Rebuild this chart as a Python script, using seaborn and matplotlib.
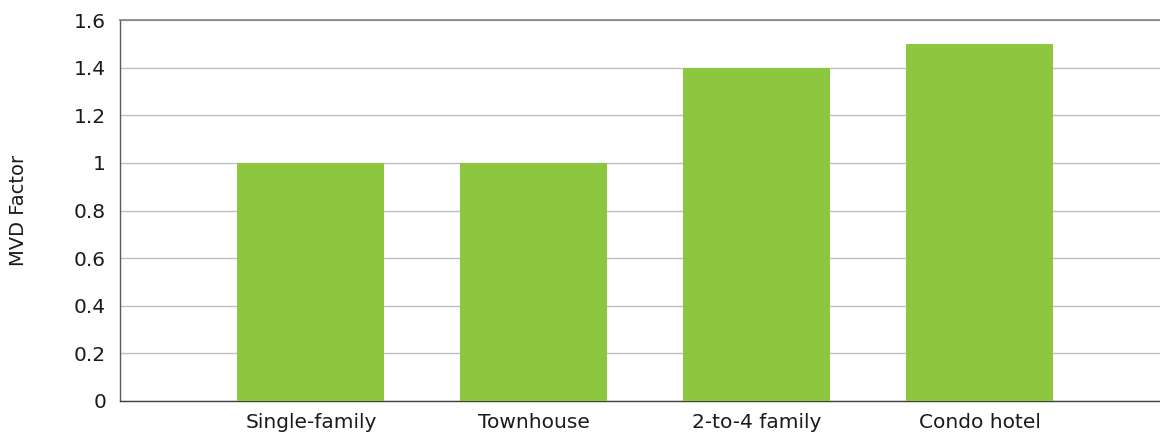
import pandas as pd
import seaborn as sns
import matplotlib.pyplot as plt

# data
categories = ['Single-family', 'Townhouse', '2-to-4 family', 'Condo hotel']
mvd_factor = [1.0, 1.0, 1.4, 1.5]
y_ticks = [0, 0.2, 0.4, 0.6, 0.8, 1, 1.2, 1.4, 1.6]
y_tick_labels = ['0', '0.2', '0.4', '0.6', '0.8', '1', '1.2', '1.4', '1.6']

df = pd.DataFrame({'category': categories, 'mvd': mvd_factor})

sns.set_style('white')
plt.rcParams['font.family'] = ['DejaVu Sans']

fig = plt.figure(figsize=(11.6, 4.37), dpi=100)
ax = fig.add_axes([0.1034, 0.0824, 0.8966, 0.8718])

sns.barplot(data=df, x='category', y='mvd', color='#8dc63f', saturation=1,
            width=0.66, linewidth=0, ax=ax, zorder=3)

ax.set_xlim(-0.857, 3.81)
ax.set_ylim(0, 1.6)
ax.set_yticks(y_ticks)
ax.set_yticklabels(y_tick_labels)
ax.yaxis.grid(True, color='#bfbfbf', linewidth=1.0, zorder=0)
ax.set_axisbelow(True)

ax.spines['right'].set_visible(False)
ax.spines['top'].set_color('#808080')
ax.spines['top'].set_linewidth(1.2)
ax.spines['left'].set_color('#595959')
ax.spines['bottom'].set_color('#404040')
ax.spines['left'].set_linewidth(1.0)
ax.spines['bottom'].set_linewidth(1.0)

ax.tick_params(axis='y', length=4, color='#808080', labelsize=14.5, pad=6,
               labelcolor='#1a1a1a')
ax.tick_params(axis='x', length=0, labelsize=14.5, pad=9, labelcolor='#1a1a1a')
ax.set_xlabel('')
ax.set_ylabel('MVD Factor', fontsize=14, labelpad=33, color='#1a1a1a')

fig.savefig('out.png', dpi=100)
